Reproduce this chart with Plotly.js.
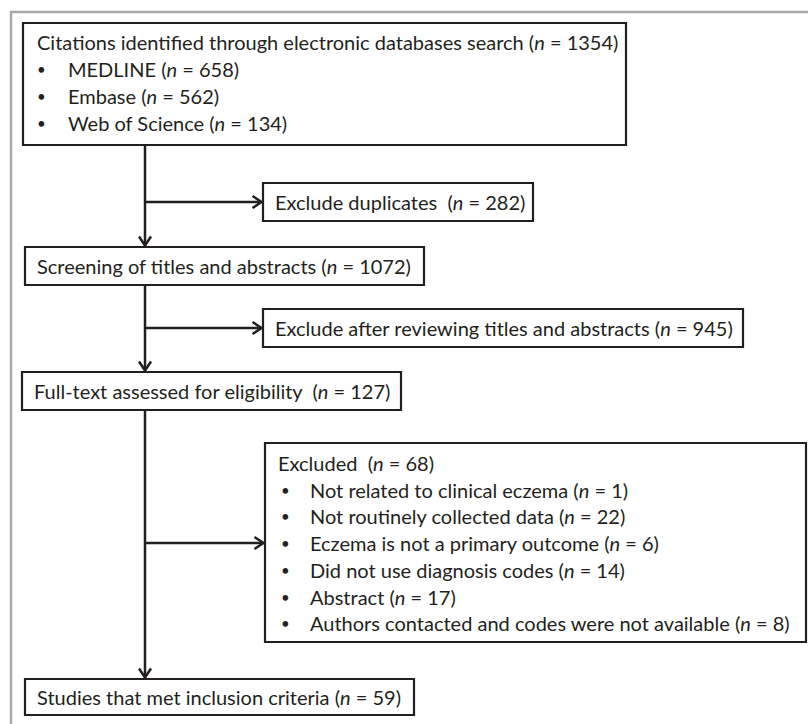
<!DOCTYPE html>
<html>
<head>
<meta charset="utf-8">
<script src="https://cdn.plot.ly/plotly-3.0.1.min.js"></script>
<style>html,body{margin:0;padding:0;background:#fff;}#chart{width:808px;height:724px;}</style>
</head>
<body>
<div id="chart"></div>
<script>
// ---- Data (text and counts) ----
var stageLabels = [
  "Citations identified through electronic databases search",
  "Screening of titles and abstracts",
  "Full-text assessed for eligibility ",
  "Studies that met inclusion criteria"
];
var stageCounts = [1354, 1072, 127, 59];

var sourceLabels = ["MEDLINE", "Embase", "Web of Science"];
var sourceCounts = [658, 562, 134];

var excludeLabels = ["Exclude duplicates ", "Exclude after reviewing titles and abstracts", "Excluded "];
var excludeCounts = [282, 945, 68];

var reasonLabels = [
  "Not related to clinical eczema",
  "Not routinely collected data",
  "Eczema is not a primary outcome",
  "Did not use diagnosis codes",
  "Abstract",
  "Authors contacted and codes were not available"
];
var reasonCounts = [1, 22, 6, 14, 17, 8];

// ---- Layout (positions in pixels) ----
var W = 808, H = 724;
var FONT = {family: "Lato, 'Open Sans', sans-serif", size: 20, color: "#231f20"};
var BULLET_FONT = {family: "Lato, 'Open Sans', sans-serif", size: 15, color: "#231f20"};
var LINE = "#231f20";
var spineX = 145;

// stage boxes: [x0, y0, x1, y1]
var stageBoxes = [[23, 23, 626, 145], [25, 247, 424, 285], [22, 372, 401, 410], [25, 679, 414, 715]];
var excludeBoxes = [[263, 183, 533, 221], [263, 309, 743, 347], [265, 443, 806, 642]];
var lineGap = 26.7;

function nText(label, n) { return label + " (<i>n</i> = " + n + ")"; }

var shapes = [];
var annotations = [];

// outer grey frame
shapes.push({type: "rect", xref: "x", yref: "y", x0: 11, y0: 12, x1: W + 40, y1: H + 40,
  line: {color: "#a7a9ac", width: 2.5}, fillcolor: "rgba(0,0,0,0)", layer: "below"});

function addBox(b) {
  shapes.push({type: "rect", xref: "x", yref: "y", x0: b[0], y0: b[1], x1: b[2], y1: b[3],
    line: {color: LINE, width: 2.2}, fillcolor: "#ffffff"});
}
function addText(x, y, t, f) {
  annotations.push({x: x, y: y, xref: "x", yref: "y", text: t, showarrow: false,
    xanchor: "left", yanchor: "middle", font: f || FONT});
}
function addSeg(x0, y0, x1, y1) {
  shapes.push({type: "line", xref: "x", yref: "y", x0: x0, y0: y0, x1: x1, y1: y1,
    line: {color: LINE, width: 2.5}});
}
function headDown(x, y) {
  shapes.push({type: "path", xref: "x", yref: "y",
    path: "M" + (x - 6) + "," + (y - 9) + " L" + x + "," + y + " L" + (x + 6) + "," + (y - 9),
    line: {color: LINE, width: 2.5}});
}
function headRight(x, y) {
  shapes.push({type: "path", xref: "x", yref: "y",
    path: "M" + (x - 9) + "," + (y - 6) + " L" + x + "," + y + " L" + (x - 9) + "," + (y + 6),
    line: {color: LINE, width: 2.5}});
}

// connectors: spine down from each stage box to the next
for (var i = 0; i < 3; i++) {
  var segTop = stageBoxes[i][3], segBot = stageBoxes[i + 1][1] - 1.5;
  addSeg(spineX, segTop, spineX, segBot);
  headDown(spineX, segBot);
  var ey = (excludeBoxes[i][1] + excludeBoxes[i][3]) / 2;
  if (i === 2) ey = excludeBoxes[i][1] + 100;
  var ex = excludeBoxes[i][0] - 1.5;
  addSeg(spineX, ey, ex, ey);
  headRight(ex, ey);
}

// boxes
stageBoxes.forEach(addBox);
excludeBoxes.forEach(addBox);

// stage texts
addText(35, 42, nText(stageLabels[0], stageCounts[0]));
for (var k = 0; k < sourceLabels.length; k++) {
  var ly = 42 + (k + 1) * 27;
  addText(35, ly, "•", BULLET_FONT);
  addText(66, ly, nText(sourceLabels[k], sourceCounts[k]));
}
for (var s = 1; s < 4; s++) {
  var b = stageBoxes[s];
  addText(b[0] + 10, (b[1] + b[3]) / 2, nText(stageLabels[s], stageCounts[s]));
}

// exclusion texts
for (var e = 0; e < 2; e++) {
  var eb = excludeBoxes[e];
  addText(eb[0] + 10, (eb[1] + eb[3]) / 2, nText(excludeLabels[e], excludeCounts[e]));
}
var xb = excludeBoxes[2];
addText(xb[0] + 11, 463, nText(excludeLabels[2], excludeCounts[2]));
for (var r = 0; r < reasonLabels.length; r++) {
  var ry = 463 + (r + 1) * lineGap;
  addText(xb[0] + 14, ry, "•", BULLET_FONT);
  addText(xb[0] + 43, ry, nText(reasonLabels[r], reasonCounts[r]));
}

var layout = {
  width: W, height: H,
  margin: {l: 0, r: 0, t: 0, b: 0},
  paper_bgcolor: "#ffffff", plot_bgcolor: "#ffffff",
  xaxis: {range: [0, W], visible: false, fixedrange: true},
  yaxis: {range: [H, 0], visible: false, fixedrange: true},
  shapes: shapes,
  annotations: annotations,
  showlegend: false
};

Plotly.newPlot("chart", [{x: [], y: [], type: "scatter", mode: "markers", hoverinfo: "skip"}], layout,
  {staticPlot: true, displayModeBar: false});
</script>
</body>
</html>
